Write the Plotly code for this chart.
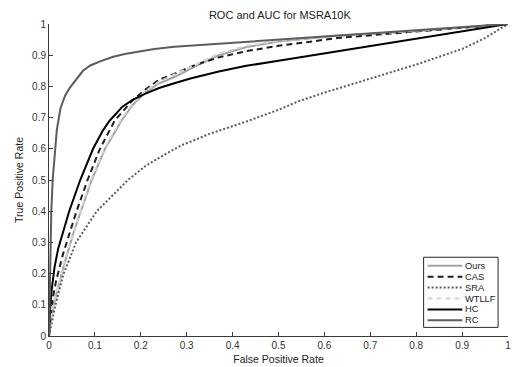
import plotly.graph_objects as go

# ---------------- data ----------------
ours_x = [0, 0.004, 0.01, 0.02, 0.035, 0.055, 0.07, 0.093, 0.122, 0.158, 0.182, 0.21, 0.24, 0.273, 0.32, 0.37, 0.43, 0.5, 0.629, 0.75, 0.87, 1]
ours_y = [0, 0.05, 0.1, 0.16, 0.24, 0.338, 0.4, 0.5, 0.6, 0.69, 0.74, 0.78, 0.81, 0.83, 0.865, 0.9, 0.926, 0.944, 0.962, 0.972, 0.985, 1]

cas_x = [0, 0.003, 0.008, 0.016, 0.03, 0.046, 0.06, 0.084, 0.111, 0.143, 0.182, 0.21, 0.24, 0.273, 0.32, 0.37, 0.43, 0.5, 0.629, 0.75, 0.87, 1]
cas_y = [0, 0.06, 0.12, 0.18, 0.26, 0.338, 0.4, 0.5, 0.6, 0.69, 0.755, 0.79, 0.822, 0.84, 0.87, 0.893, 0.913, 0.93, 0.955, 0.97, 0.985, 1]

sra_x = [0, 0.005, 0.014, 0.032, 0.059, 0.104, 0.172, 0.21, 0.25, 0.29, 0.35, 0.435, 0.5, 0.543, 0.6, 0.7, 0.8, 0.9, 0.95, 1]
sra_y = [0, 0.04, 0.1, 0.2, 0.3, 0.4, 0.5, 0.545, 0.58, 0.612, 0.648, 0.69, 0.725, 0.752, 0.78, 0.825, 0.87, 0.92, 0.955, 1]

wtllf_x = [0, 0.004, 0.01, 0.02, 0.035, 0.055, 0.07, 0.093, 0.122, 0.158, 0.182, 0.21, 0.24, 0.273, 0.32, 0.37, 0.43, 0.5, 0.629, 0.75, 0.87, 1]
wtllf_y = [0, 0.055, 0.105, 0.165, 0.245, 0.342, 0.405, 0.505, 0.605, 0.695, 0.745, 0.785, 0.815, 0.838, 0.872, 0.905, 0.93, 0.946, 0.963, 0.973, 0.986, 1]

hc_x = [0, 0.002, 0.006, 0.012, 0.02, 0.032, 0.044, 0.068, 0.096, 0.117, 0.132, 0.16, 0.182, 0.21, 0.24, 0.273, 0.31, 0.37, 0.43, 0.5, 0.629, 0.75, 0.87, 1]
hc_y = [0, 0.08, 0.15, 0.22, 0.28, 0.338, 0.4, 0.5, 0.6, 0.658, 0.69, 0.735, 0.757, 0.777, 0.795, 0.81, 0.826, 0.848, 0.866, 0.882, 0.912, 0.94, 0.97, 1]

rc_x = [0, 0.001, 0.002, 0.003, 0.005, 0.008, 0.012, 0.017, 0.025, 0.035, 0.046, 0.06, 0.074, 0.09, 0.114, 0.14, 0.165, 0.2, 0.23, 0.273, 0.35, 0.45, 0.61, 0.8, 1]
rc_y = [0, 0.1, 0.2, 0.3, 0.4, 0.5, 0.58, 0.66, 0.73, 0.77, 0.797, 0.825, 0.85, 0.867, 0.882, 0.895, 0.904, 0.913, 0.92, 0.927, 0.935, 0.945, 0.96, 0.98, 1]

tick_vals = [0, 0.1, 0.2, 0.3, 0.4, 0.5, 0.6, 0.7, 0.8, 0.9, 1]
tick_text = ["0", "0.1", "0.2", "0.3", "0.4", "0.5", "0.6", "0.7", "0.8", "0.9", "1"]

series = [
    ("Ours", ours_x, ours_y, "#a3a3a3", "solid", 2),
    ("CAS", cas_x, cas_y, "#1e1e1e", "6px,4px", 2),
    ("SRA", sra_x, sra_y, "#5a5a5a", "2px,2px", 2),
    ("WTLLF", wtllf_x, wtllf_y, "#d4d4d4", "5px,4px", 2),
    ("HC", hc_x, hc_y, "#000000", "solid", 2),
    ("RC", rc_x, rc_y, "#5c5c5c", "solid", 2),
]

FONT = "Liberation Sans, Arial, sans-serif"

fig = go.Figure()
for name, xs, ys, col, dash, w in series:
    fig.add_trace(go.Scatter(x=xs, y=ys, mode="lines", name=name,
                             line=dict(color=col, dash=dash, width=w),
                             showlegend=False))

# ---------------- manual legend (MATLAB style, compact) ----------------
L, R, T, B = 426, 501, 257, 327
x0p, x1p = 48.7, 511.0
y0p, y1p = 335.6, 24.2


def px2x(p):
    return (p - x0p) / (x1p - x0p)


def py2y(p):
    return (y0p - p) / (y0p - y1p)


shapes = [dict(type="rect", xref="x", yref="y",
               x0=px2x(L), x1=px2x(R), y0=py2y(B), y1=py2y(T),
               line=dict(color="#262626", width=1), fillcolor="white", layer="above")]
annotations = []
row0, dy = 265.5, 10.9
for i, (name, xs, ys, col, dash, w) in enumerate(series):
    yy = py2y(row0 + i * dy)
    shapes.append(dict(type="line", xref="x", yref="y",
                       x0=px2x(430), x1=px2x(465), y0=yy, y1=yy,
                       line=dict(color=col, dash=dash, width=w), layer="above"))
    annotations.append(dict(x=px2x(465.5), y=yy, xref="x", yref="y", text=name,
                            showarrow=False, xanchor="left", yanchor="middle",
                            font=dict(size=9.3, color="#222222", family=FONT)))

axis_common = dict(range=[0, 1], tickvals=tick_vals, ticktext=tick_text,
                   showgrid=False, zeroline=False, showline=True,
                   linecolor="#3a3a3a", linewidth=1, ticks="inside",
                   ticklen=4, tickwidth=1, tickcolor="#3a3a3a",
                   tickfont=dict(size=10, color="#333333", family=FONT),
                   ticklabeloverflow="allow",
                   mirror=False, fixedrange=True)

fig.update_layout(
    width=513, height=367,
    margin=dict(l=49, r=2, t=24, b=31, pad=0),
    paper_bgcolor="white", plot_bgcolor="white",
    title=dict(text="ROC and AUC for MSRA10K", x=0.5455, xanchor="center",
               y=1 - 15 / 367, yanchor="middle",
               font=dict(size=11, color="#222222", family=FONT)),
    xaxis=dict(axis_common,
               title=dict(text="False Positive Rate", standoff=5,
                          font=dict(size=10.5, color="#222222", family=FONT))),
    yaxis=dict(axis_common,
               title=dict(text="True Positive Rate", standoff=6,
                          font=dict(size=10.5, color="#222222", family=FONT))),
    shapes=shapes, annotations=annotations,
    showlegend=False,
)

fig.write_html("out.html",
               config={"displayModeBar": False, "staticPlot": True},
               post_script="document.body.style.margin='0';document.body.style.padding='0';")
